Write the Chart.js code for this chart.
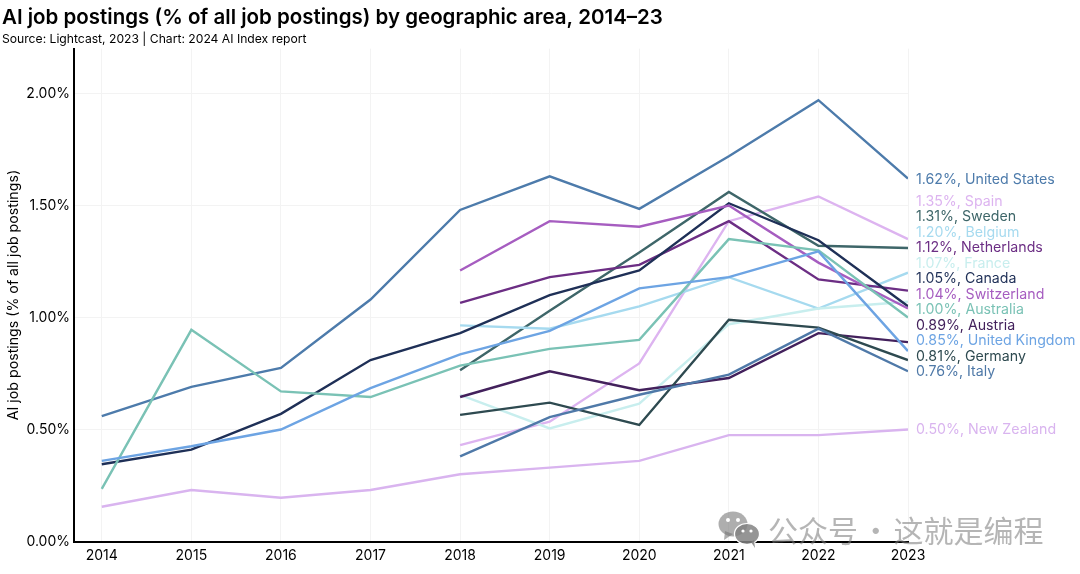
<!DOCTYPE html>
<html><head><meta charset="utf-8">
<style>
html,body{margin:0;padding:0;background:#fff;width:1080px;height:574px;overflow:hidden}
#wrap{position:relative;width:1080px;height:574px}
canvas{display:block}
#wm{position:absolute;left:768px;top:507px;font:30px "Noto Sans CJK SC";word-spacing:-4px;color:rgba(120,120,120,.55);white-space:nowrap;line-height:44px}
#ic{position:absolute;left:718px;top:511px}
</style>
<script src="https://cdn.jsdelivr.net/npm/chart.js@4"></script>
</head><body><div id="wrap"><canvas id="c" width="1080" height="574"></canvas>
<svg id="ic" width="44" height="38" viewBox="0 0 44 38"><g fill="rgba(120,120,120,.6)"><ellipse cx="15" cy="13" rx="14.5" ry="12.5"/><path d="M7 20l-1 9 9-6z"/></g><g fill="rgba(130,130,130,.85)" stroke="#fff" stroke-width="1.2"><ellipse cx="29" cy="23" rx="12.5" ry="10.5"/></g><path d="M33 31l4 6-1-8z" fill="rgba(130,130,130,.85)"/><g fill="#fff"><circle cx="10" cy="9" r="2"/><circle cx="20" cy="9" r="2"/><circle cx="25" cy="20" r="1.6"/><circle cx="33" cy="20" r="1.6"/></g></svg>
<div id="wm">公众号 · 这就是编程</div></div>
<script>
const years=[2014,2015,2016,2017,2018,2019,2020,2021,2022,2023];
const unitedStates=[0.56,0.69,0.775,1.08,1.48,1.63,1.485,1.72,1.97,1.62];
const newZealand=[0.155,0.23,0.195,0.23,0.30,0.33,0.36,0.475,0.475,0.50];
const canada=[0.345,0.41,0.57,0.81,0.93,1.10,1.21,1.51,1.345,1.05];
const unitedKingdom=[0.36,0.425,0.50,0.685,0.835,0.94,1.13,1.18,1.295,0.85];
const australia=[0.235,0.945,0.67,0.645,0.785,0.86,0.90,1.35,1.30,1.00];
const spain=[null,null,null,null,0.43,0.535,0.795,1.43,1.54,1.35];
const sweden=[null,null,null,null,0.765,1.03,1.29,1.56,1.32,1.31];
const belgium=[null,null,null,null,0.965,0.95,1.05,1.18,1.04,1.20];
const netherlands=[null,null,null,null,1.065,1.18,1.235,1.43,1.17,1.12];
const france=[null,null,null,null,0.655,0.505,0.615,0.97,1.04,1.07];
const switzerland=[null,null,null,null,1.21,1.43,1.405,1.50,1.245,1.04];
const austria=[null,null,null,null,0.645,0.76,0.675,0.73,0.93,0.89];
const germany=[null,null,null,null,0.565,0.62,0.52,0.99,0.955,0.81];
const italy=[null,null,null,null,0.38,0.555,0.655,0.745,0.95,0.76];
const yTicks=[0,0.5,1,1.5,2];
const titleText='AI job postings (% of all job postings) by geographic area, 2014–23';
const subtitleText='Source: Lightcast, 2023 | Chart: 2024 AI Index report';
const yTitle='AI job postings (% of all job postings)';

const seriesDefs=[
 ['New Zealand',newZealand,'#D9B4EF',430],
 ['Italy',italy,'#4F79A8',372],
 ['Germany',germany,'#2E4A50',357],
 ['United Kingdom',unitedKingdom,'#6DA4E3',341],
 ['Austria',austria,'#43215C',326],
 ['Australia',australia,'#7AC2B5',310],
 ['Switzerland',switzerland,'#A65DC0',295],
 ['Canada',canada,'#1F3057',279],
 ['France',france,'#C8EEEE',264],
 ['Netherlands',netherlands,'#6C2E84',248],
 ['Belgium',belgium,'#A6DAEF',233],
 ['Sweden',sweden,'#3E6669',217],
 ['Spain',spain,'#DDB4F0',202],
 ['United States',unitedStates,'#4D7BAB',180]
];
const FONT='Inter, "Liberation Sans", sans-serif';
const endLabels={id:'endLabels',afterDatasetsDraw(ch){
  const c=ch.ctx,x=ch.scales.x.getPixelForValue(2023)+8;
  c.save();c.font='14.2px '+FONT;c.textBaseline='middle';c.textAlign='left';
  ch.data.datasets.forEach(d=>{
    const last=d.data[d.data.length-1];
    c.fillStyle=d.borderColor;
    c.fillText(last.y.toFixed(2)+'%, '+d.label,x,d.labelPixel);
  });
  c.restore();
}};
new Chart(document.getElementById('c'),{
 type:'line',
 plugins:[endLabels],
 data:{datasets:seriesDefs.map(([label,vals,color,labelPixel])=>({
   label,labelPixel,borderColor:color,backgroundColor:color,borderWidth:2.4,
   pointRadius:0,tension:0,spanGaps:false,
   data:years.map((y,i)=>({x:y,y:vals[i]})).filter(p=>p.y!==null)
 }))},
 options:{
  responsive:false,animation:false,devicePixelRatio:1,
  layout:{padding:{top:6,left:2,right:172,bottom:0}},
  plugins:{
   legend:{display:false},tooltip:{enabled:false},
   title:{display:true,text:titleText,align:'start',color:'#000',font:{family:FONT,size:20.5,weight:'600',lineHeight:1.2},padding:0},
   subtitle:{display:true,text:subtitleText,align:'start',color:'#000',font:{family:FONT,size:12.15,weight:'400',lineHeight:1.2},padding:{top:1,bottom:2.5}}
  },
  scales:{
   x:{type:'linear',min:2013.69,max:2023,
    afterBuildTicks(s){s.ticks=years.map(v=>({value:v}));},
    afterFit(s){s.height=32.5;},
    grid:{color:'#f3f3f3',lineWidth:1,tickLength:0,drawTicks:false},
    border:{color:'#000',width:2},
    ticks:{color:'#000',autoSkip:false,maxRotation:0,padding:6,font:{family:FONT,size:14},callback:v=>String(v)}},
   y:{min:0,max:2.2,
    afterBuildTicks(s){s.ticks=yTicks.map(v=>({value:v}));},
    afterFit(s){s.width=72;},
    grid:{color:'#f3f3f3',lineWidth:1,drawTicks:false},
    border:{color:'#000',width:2},
    title:{display:true,text:yTitle,color:'#000',font:{family:FONT,size:14.2},padding:{top:3,bottom:0}},
    ticks:{color:'#000',padding:4,font:{family:FONT,size:14},callback:v=>v.toFixed(2)+'%'}}
  }
 }
});
</script></body></html>
